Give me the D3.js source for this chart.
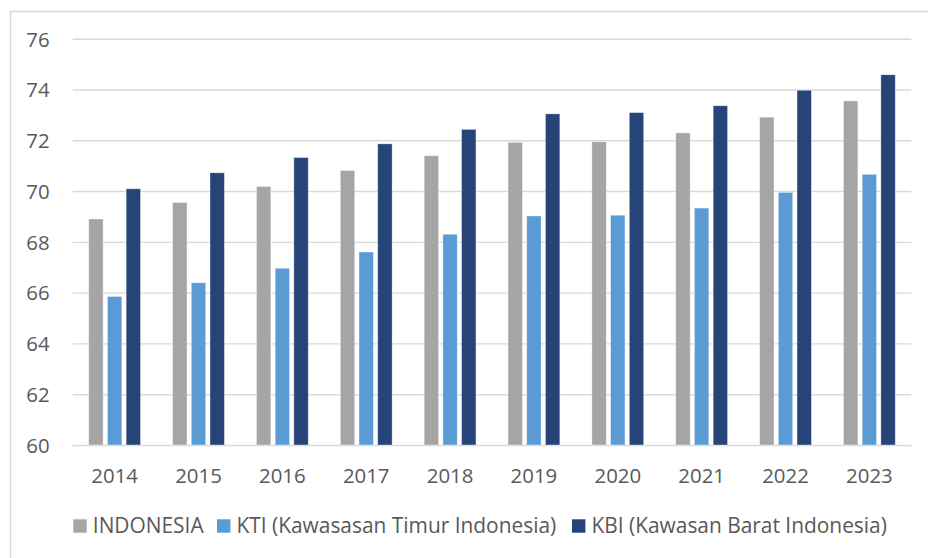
<!DOCTYPE html>
<html>
<head>
<meta charset="utf-8">
<script src="https://cdn.jsdelivr.net/npm/d3@7"></script>
<style>
  html, body { margin: 0; padding: 0; background: #fff; }
  svg { display: block; }
  text { font-family: "Open Sans", "Noto Sans", sans-serif; fill: #595959; }
</style>
</head>
<body>
<svg id="chart" width="928" height="558"></svg>
<script>
const years = ["2014","2015","2016","2017","2018","2019","2020","2021","2022","2023"];
const seriesNames = ["INDONESIA", "KTI (Kawasasan Timur Indonesia)", "KBI (Kawasan Barat Indonesia)"];
const indonesia = [68.90, 69.55, 70.18, 70.81, 71.39, 71.92, 71.94, 72.29, 72.91, 73.55];
const kti = [65.85, 66.39, 66.96, 67.60, 68.30, 69.02, 69.05, 69.33, 69.95, 70.66];
const kbi = [70.09, 70.72, 71.32, 71.86, 72.43, 73.04, 73.09, 73.36, 73.97, 74.58];
const yTicks = [60, 62, 64, 66, 68, 70, 72, 74, 76];
const colors = ["#A5A5A5", "#5B9BD5", "#264478"];

const seriesValues = [indonesia, kti, kbi];
const svg = d3.select("#chart");

// outer border
svg.append("path")
  .attr("d", "M10.5,558 L10.5,11.5 L928,11.5")
  .attr("fill", "none").attr("stroke", "#D9D9D9").attr("stroke-width", 1.5);

const x = d3.scaleBand().domain(years).range([72.7, 911.3]).padding(0);
const y = d3.scaleLinear().domain([60, 76]).range([445, 38.7]);
const c = x.bandwidth() / 2;
const xs = d3.scaleBand().domain(d3.range(3)).range([c - 28.05, c + 28.05])
  .paddingInner(0.23).paddingOuter(0.115);

// gridlines
const yAxis = d3.axisLeft(y).tickValues(yTicks).tickSize(-(911.3 - 72.7)).tickPadding(23);
const gy = svg.append("g").attr("transform", "translate(72.7,0)").call(yAxis);
gy.select(".domain").remove();
gy.selectAll(".tick line").attr("stroke", "#D9D9D9").attr("stroke-width", 1.4);
gy.selectAll(".tick text").attr("font-size", 20.4).attr("fill", "#595959")
  .style("font-family", '"Open Sans", sans-serif').attr("dy", "0.36em");

// bars
const groups = svg.append("g").selectAll("g").data(years).join("g")
  .attr("transform", d => `translate(${x(d)},0)`);
groups.selectAll("rect")
  .data((d, i) => seriesValues.map((s, k) => ({ k, v: s[i] })))
  .join("rect")
  .attr("x", d => xs(d.k))
  .attr("width", xs.bandwidth())
  .attr("y", d => y(d.v))
  .attr("height", d => y(60) - y(d.v))
  .attr("fill", d => colors[d.k])
  .attr("stroke", "#ffffff").attr("stroke-opacity", 0.5).attr("stroke-width", 0.75);

// x axis labels
const xAxis = d3.axisBottom(x).tickSize(0).tickPadding(24);
const gx = svg.append("g").attr("transform", "translate(0,445)").call(xAxis);
gx.select(".domain").remove();
gx.selectAll(".tick text").attr("font-size", 20.4).attr("fill", "#595959")
  .style("font-family", '"Open Sans", sans-serif');

// legend
const legendX = [73.3, 217, 572];
const lg = svg.append("g").selectAll("g").data(seriesNames).join("g")
  .attr("transform", (d, i) => `translate(${legendX[i]},0)`);
lg.append("rect").attr("x", 0).attr("y", 519.3).attr("width", 13.4).attr("height", 13.4)
  .attr("fill", (d, i) => colors[i]);
lg.append("text").attr("x", 19.5).attr("y", 533.3).attr("font-size", 20.9).text(d => d);
</script>
</body>
</html>
